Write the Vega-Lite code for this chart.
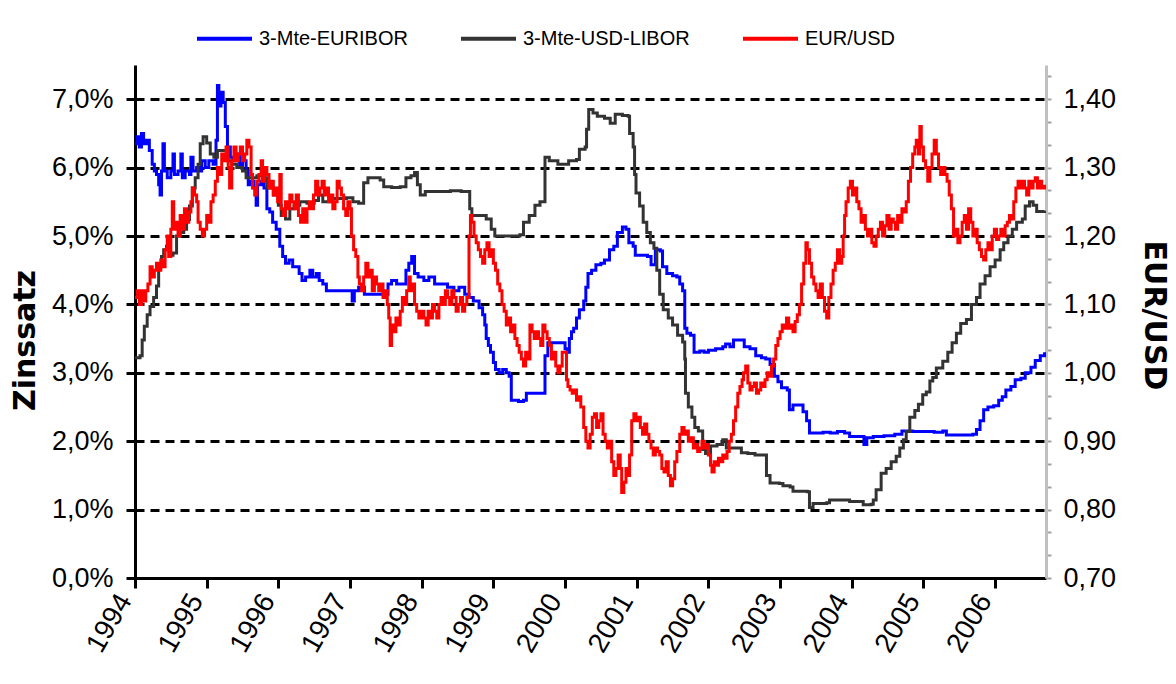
{
  "$schema": "https://vega.github.io/schema/vega-lite/v6.json",
  "width": 911,
  "height": 513,
  "autosize": {"type": "none"},
  "padding": {"left": 135, "top": 65, "right": 130, "bottom": 106},
  "background": "white",
  "config": {"view": {"stroke": null}},
  "datasets": {
    "zins": [
      {"d":1994.00,"s":"3-Mte-EURIBOR","v":6.35},{"d":1994.03,"s":"3-Mte-EURIBOR","v":6.45},{"d":1994.06,"s":"3-Mte-EURIBOR","v":6.3},{"d":1994.09,"s":"3-Mte-EURIBOR","v":6.5},{"d":1994.12,"s":"3-Mte-EURIBOR","v":6.35},{"d":1994.16,"s":"3-Mte-EURIBOR","v":6.4},{"d":1994.20,"s":"3-Mte-EURIBOR","v":6.25},{"d":1994.24,"s":"3-Mte-EURIBOR","v":6.05},{"d":1994.27,"s":"3-Mte-EURIBOR","v":5.95},{"d":1994.30,"s":"3-Mte-EURIBOR","v":5.9},{"d":1994.33,"s":"3-Mte-EURIBOR","v":5.75},{"d":1994.35,"s":"3-Mte-EURIBOR","v":5.6},{"d":1994.37,"s":"3-Mte-EURIBOR","v":5.95},{"d":1994.39,"s":"3-Mte-EURIBOR","v":6.35},{"d":1994.41,"s":"3-Mte-EURIBOR","v":5.95},{"d":1994.45,"s":"3-Mte-EURIBOR","v":5.85},{"d":1994.50,"s":"3-Mte-EURIBOR","v":5.95},{"d":1994.53,"s":"3-Mte-EURIBOR","v":6.2},{"d":1994.55,"s":"3-Mte-EURIBOR","v":5.9},{"d":1994.60,"s":"3-Mte-EURIBOR","v":5.95},{"d":1994.64,"s":"3-Mte-EURIBOR","v":6.2},{"d":1994.66,"s":"3-Mte-EURIBOR","v":5.85},{"d":1994.70,"s":"3-Mte-EURIBOR","v":5.95},{"d":1994.76,"s":"3-Mte-EURIBOR","v":5.9},{"d":1994.78,"s":"3-Mte-EURIBOR","v":6.15},{"d":1994.81,"s":"3-Mte-EURIBOR","v":5.95},{"d":1994.86,"s":"3-Mte-EURIBOR","v":6.0},{"d":1994.90,"s":"3-Mte-EURIBOR","v":5.95},{"d":1994.93,"s":"3-Mte-EURIBOR","v":6.1},{"d":1994.98,"s":"3-Mte-EURIBOR","v":6.0},{"d":1995.03,"s":"3-Mte-EURIBOR","v":6.1},{"d":1995.09,"s":"3-Mte-EURIBOR","v":6.05},{"d":1995.13,"s":"3-Mte-EURIBOR","v":6.4},{"d":1995.15,"s":"3-Mte-EURIBOR","v":7.2},{"d":1995.17,"s":"3-Mte-EURIBOR","v":6.9},{"d":1995.20,"s":"3-Mte-EURIBOR","v":7.1},{"d":1995.23,"s":"3-Mte-EURIBOR","v":6.95},{"d":1995.26,"s":"3-Mte-EURIBOR","v":6.6},{"d":1995.29,"s":"3-Mte-EURIBOR","v":6.3},{"d":1995.33,"s":"3-Mte-EURIBOR","v":6.15},{"d":1995.37,"s":"3-Mte-EURIBOR","v":6.1},{"d":1995.42,"s":"3-Mte-EURIBOR","v":6.2},{"d":1995.46,"s":"3-Mte-EURIBOR","v":6.0},{"d":1995.50,"s":"3-Mte-EURIBOR","v":6.1},{"d":1995.55,"s":"3-Mte-EURIBOR","v":5.95},{"d":1995.58,"s":"3-Mte-EURIBOR","v":5.75},{"d":1995.62,"s":"3-Mte-EURIBOR","v":5.8},{"d":1995.66,"s":"3-Mte-EURIBOR","v":5.7},{"d":1995.69,"s":"3-Mte-EURIBOR","v":5.45},{"d":1995.71,"s":"3-Mte-EURIBOR","v":5.75},{"d":1995.76,"s":"3-Mte-EURIBOR","v":5.8},{"d":1995.80,"s":"3-Mte-EURIBOR","v":5.7},{"d":1995.84,"s":"3-Mte-EURIBOR","v":5.4},{"d":1995.88,"s":"3-Mte-EURIBOR","v":5.35},{"d":1995.92,"s":"3-Mte-EURIBOR","v":5.2},{"d":1995.97,"s":"3-Mte-EURIBOR","v":5.1},{"d":1996.02,"s":"3-Mte-EURIBOR","v":4.85},{"d":1996.06,"s":"3-Mte-EURIBOR","v":4.7},{"d":1996.10,"s":"3-Mte-EURIBOR","v":4.6},{"d":1996.15,"s":"3-Mte-EURIBOR","v":4.65},{"d":1996.20,"s":"3-Mte-EURIBOR","v":4.55},{"d":1996.25,"s":"3-Mte-EURIBOR","v":4.55},{"d":1996.29,"s":"3-Mte-EURIBOR","v":4.45},{"d":1996.33,"s":"3-Mte-EURIBOR","v":4.35},{"d":1996.38,"s":"3-Mte-EURIBOR","v":4.4},{"d":1996.44,"s":"3-Mte-EURIBOR","v":4.5},{"d":1996.48,"s":"3-Mte-EURIBOR","v":4.4},{"d":1996.53,"s":"3-Mte-EURIBOR","v":4.45},{"d":1996.57,"s":"3-Mte-EURIBOR","v":4.35},{"d":1996.62,"s":"3-Mte-EURIBOR","v":4.3},{"d":1996.67,"s":"3-Mte-EURIBOR","v":4.2},{"d":1996.75,"s":"3-Mte-EURIBOR","v":4.2},{"d":1996.85,"s":"3-Mte-EURIBOR","v":4.2},{"d":1996.95,"s":"3-Mte-EURIBOR","v":4.2},{"d":1997.03,"s":"3-Mte-EURIBOR","v":4.05},{"d":1997.06,"s":"3-Mte-EURIBOR","v":4.2},{"d":1997.12,"s":"3-Mte-EURIBOR","v":4.25},{"d":1997.20,"s":"3-Mte-EURIBOR","v":4.15},{"d":1997.30,"s":"3-Mte-EURIBOR","v":4.15},{"d":1997.40,"s":"3-Mte-EURIBOR","v":4.15},{"d":1997.50,"s":"3-Mte-EURIBOR","v":4.15},{"d":1997.53,"s":"3-Mte-EURIBOR","v":4.3},{"d":1997.58,"s":"3-Mte-EURIBOR","v":4.35},{"d":1997.65,"s":"3-Mte-EURIBOR","v":4.3},{"d":1997.72,"s":"3-Mte-EURIBOR","v":4.3},{"d":1997.78,"s":"3-Mte-EURIBOR","v":4.5},{"d":1997.82,"s":"3-Mte-EURIBOR","v":4.6},{"d":1997.86,"s":"3-Mte-EURIBOR","v":4.7},{"d":1997.90,"s":"3-Mte-EURIBOR","v":4.45},{"d":1997.95,"s":"3-Mte-EURIBOR","v":4.4},{"d":1998.03,"s":"3-Mte-EURIBOR","v":4.35},{"d":1998.10,"s":"3-Mte-EURIBOR","v":4.4},{"d":1998.18,"s":"3-Mte-EURIBOR","v":4.3},{"d":1998.28,"s":"3-Mte-EURIBOR","v":4.3},{"d":1998.36,"s":"3-Mte-EURIBOR","v":4.25},{"d":1998.45,"s":"3-Mte-EURIBOR","v":4.2},{"d":1998.52,"s":"3-Mte-EURIBOR","v":4.25},{"d":1998.60,"s":"3-Mte-EURIBOR","v":4.15},{"d":1998.66,"s":"3-Mte-EURIBOR","v":4.1},{"d":1998.72,"s":"3-Mte-EURIBOR","v":4.05},{"d":1998.80,"s":"3-Mte-EURIBOR","v":3.95},{"d":1998.85,"s":"3-Mte-EURIBOR","v":3.85},{"d":1998.88,"s":"3-Mte-EURIBOR","v":3.7},{"d":1998.90,"s":"3-Mte-EURIBOR","v":3.5},{"d":1998.93,"s":"3-Mte-EURIBOR","v":3.4},{"d":1998.96,"s":"3-Mte-EURIBOR","v":3.3},{"d":1999.00,"s":"3-Mte-EURIBOR","v":3.15},{"d":1999.03,"s":"3-Mte-EURIBOR","v":3.05},{"d":1999.08,"s":"3-Mte-EURIBOR","v":3.0},{"d":1999.13,"s":"3-Mte-EURIBOR","v":3.05},{"d":1999.18,"s":"3-Mte-EURIBOR","v":3.0},{"d":1999.22,"s":"3-Mte-EURIBOR","v":2.95},{"d":1999.25,"s":"3-Mte-EURIBOR","v":2.6},{"d":1999.35,"s":"3-Mte-EURIBOR","v":2.58},{"d":1999.42,"s":"3-Mte-EURIBOR","v":2.6},{"d":1999.46,"s":"3-Mte-EURIBOR","v":2.7},{"d":1999.55,"s":"3-Mte-EURIBOR","v":2.7},{"d":1999.65,"s":"3-Mte-EURIBOR","v":2.7},{"d":1999.72,"s":"3-Mte-EURIBOR","v":3.25},{"d":1999.76,"s":"3-Mte-EURIBOR","v":3.44},{"d":1999.85,"s":"3-Mte-EURIBOR","v":3.44},{"d":1999.95,"s":"3-Mte-EURIBOR","v":3.44},{"d":2000.00,"s":"3-Mte-EURIBOR","v":3.35},{"d":2000.03,"s":"3-Mte-EURIBOR","v":3.3},{"d":2000.06,"s":"3-Mte-EURIBOR","v":3.5},{"d":2000.09,"s":"3-Mte-EURIBOR","v":3.6},{"d":2000.12,"s":"3-Mte-EURIBOR","v":3.65},{"d":2000.16,"s":"3-Mte-EURIBOR","v":3.8},{"d":2000.20,"s":"3-Mte-EURIBOR","v":3.92},{"d":2000.26,"s":"3-Mte-EURIBOR","v":4.05},{"d":2000.29,"s":"3-Mte-EURIBOR","v":4.25},{"d":2000.32,"s":"3-Mte-EURIBOR","v":4.45},{"d":2000.37,"s":"3-Mte-EURIBOR","v":4.5},{"d":2000.43,"s":"3-Mte-EURIBOR","v":4.58},{"d":2000.50,"s":"3-Mte-EURIBOR","v":4.6},{"d":2000.55,"s":"3-Mte-EURIBOR","v":4.65},{"d":2000.62,"s":"3-Mte-EURIBOR","v":4.8},{"d":2000.68,"s":"3-Mte-EURIBOR","v":4.85},{"d":2000.73,"s":"3-Mte-EURIBOR","v":5.05},{"d":2000.80,"s":"3-Mte-EURIBOR","v":5.13},{"d":2000.85,"s":"3-Mte-EURIBOR","v":5.1},{"d":2000.89,"s":"3-Mte-EURIBOR","v":4.9},{"d":2000.95,"s":"3-Mte-EURIBOR","v":4.85},{"d":2000.98,"s":"3-Mte-EURIBOR","v":4.72},{"d":2001.08,"s":"3-Mte-EURIBOR","v":4.72},{"d":2001.15,"s":"3-Mte-EURIBOR","v":4.7},{"d":2001.20,"s":"3-Mte-EURIBOR","v":4.58},{"d":2001.26,"s":"3-Mte-EURIBOR","v":4.8},{"d":2001.33,"s":"3-Mte-EURIBOR","v":4.78},{"d":2001.36,"s":"3-Mte-EURIBOR","v":4.55},{"d":2001.42,"s":"3-Mte-EURIBOR","v":4.45},{"d":2001.50,"s":"3-Mte-EURIBOR","v":4.42},{"d":2001.56,"s":"3-Mte-EURIBOR","v":4.4},{"d":2001.60,"s":"3-Mte-EURIBOR","v":4.3},{"d":2001.64,"s":"3-Mte-EURIBOR","v":4.2},{"d":2001.67,"s":"3-Mte-EURIBOR","v":3.65},{"d":2001.70,"s":"3-Mte-EURIBOR","v":3.58},{"d":2001.75,"s":"3-Mte-EURIBOR","v":3.55},{"d":2001.80,"s":"3-Mte-EURIBOR","v":3.3},{"d":2001.88,"s":"3-Mte-EURIBOR","v":3.32},{"d":2001.94,"s":"3-Mte-EURIBOR","v":3.3},{"d":2002.00,"s":"3-Mte-EURIBOR","v":3.33},{"d":2002.10,"s":"3-Mte-EURIBOR","v":3.35},{"d":2002.20,"s":"3-Mte-EURIBOR","v":3.38},{"d":2002.24,"s":"3-Mte-EURIBOR","v":3.42},{"d":2002.30,"s":"3-Mte-EURIBOR","v":3.38},{"d":2002.35,"s":"3-Mte-EURIBOR","v":3.48},{"d":2002.45,"s":"3-Mte-EURIBOR","v":3.48},{"d":2002.50,"s":"3-Mte-EURIBOR","v":3.38},{"d":2002.58,"s":"3-Mte-EURIBOR","v":3.35},{"d":2002.66,"s":"3-Mte-EURIBOR","v":3.25},{"d":2002.74,"s":"3-Mte-EURIBOR","v":3.22},{"d":2002.80,"s":"3-Mte-EURIBOR","v":3.2},{"d":2002.86,"s":"3-Mte-EURIBOR","v":3.12},{"d":2002.92,"s":"3-Mte-EURIBOR","v":2.95},{"d":2002.97,"s":"3-Mte-EURIBOR","v":2.87},{"d":2003.02,"s":"3-Mte-EURIBOR","v":2.78},{"d":2003.10,"s":"3-Mte-EURIBOR","v":2.75},{"d":2003.13,"s":"3-Mte-EURIBOR","v":2.46},{"d":2003.18,"s":"3-Mte-EURIBOR","v":2.53},{"d":2003.27,"s":"3-Mte-EURIBOR","v":2.53},{"d":2003.32,"s":"3-Mte-EURIBOR","v":2.43},{"d":2003.37,"s":"3-Mte-EURIBOR","v":2.3},{"d":2003.41,"s":"3-Mte-EURIBOR","v":2.12},{"d":2003.50,"s":"3-Mte-EURIBOR","v":2.12},{"d":2003.60,"s":"3-Mte-EURIBOR","v":2.13},{"d":2003.70,"s":"3-Mte-EURIBOR","v":2.12},{"d":2003.80,"s":"3-Mte-EURIBOR","v":2.14},{"d":2003.90,"s":"3-Mte-EURIBOR","v":2.12},{"d":2003.97,"s":"3-Mte-EURIBOR","v":2.07},{"d":2004.10,"s":"3-Mte-EURIBOR","v":2.07},{"d":2004.17,"s":"3-Mte-EURIBOR","v":1.95},{"d":2004.21,"s":"3-Mte-EURIBOR","v":2.05},{"d":2004.30,"s":"3-Mte-EURIBOR","v":2.07},{"d":2004.45,"s":"3-Mte-EURIBOR","v":2.08},{"d":2004.60,"s":"3-Mte-EURIBOR","v":2.1},{"d":2004.70,"s":"3-Mte-EURIBOR","v":2.15},{"d":2004.85,"s":"3-Mte-EURIBOR","v":2.14},{"d":2005.00,"s":"3-Mte-EURIBOR","v":2.14},{"d":2005.15,"s":"3-Mte-EURIBOR","v":2.13},{"d":2005.27,"s":"3-Mte-EURIBOR","v":2.15},{"d":2005.32,"s":"3-Mte-EURIBOR","v":2.09},{"d":2005.50,"s":"3-Mte-EURIBOR","v":2.09},{"d":2005.69,"s":"3-Mte-EURIBOR","v":2.1},{"d":2005.74,"s":"3-Mte-EURIBOR","v":2.17},{"d":2005.79,"s":"3-Mte-EURIBOR","v":2.3},{"d":2005.84,"s":"3-Mte-EURIBOR","v":2.46},{"d":2005.90,"s":"3-Mte-EURIBOR","v":2.5},{"d":2005.98,"s":"3-Mte-EURIBOR","v":2.52},{"d":2006.05,"s":"3-Mte-EURIBOR","v":2.6},{"d":2006.10,"s":"3-Mte-EURIBOR","v":2.65},{"d":2006.15,"s":"3-Mte-EURIBOR","v":2.75},{"d":2006.22,"s":"3-Mte-EURIBOR","v":2.8},{"d":2006.28,"s":"3-Mte-EURIBOR","v":2.9},{"d":2006.36,"s":"3-Mte-EURIBOR","v":2.92},{"d":2006.42,"s":"3-Mte-EURIBOR","v":3.0},{"d":2006.50,"s":"3-Mte-EURIBOR","v":3.08},{"d":2006.56,"s":"3-Mte-EURIBOR","v":3.18},{"d":2006.63,"s":"3-Mte-EURIBOR","v":3.25},{"d":2006.69,"s":"3-Mte-EURIBOR","v":3.3},
      {"d":1994.00,"s":"3-Mte-USD-LIBOR","v":3.22},{"d":1994.07,"s":"3-Mte-USD-LIBOR","v":3.25},{"d":1994.10,"s":"3-Mte-USD-LIBOR","v":3.48},{"d":1994.13,"s":"3-Mte-USD-LIBOR","v":3.68},{"d":1994.17,"s":"3-Mte-USD-LIBOR","v":3.85},{"d":1994.21,"s":"3-Mte-USD-LIBOR","v":3.97},{"d":1994.26,"s":"3-Mte-USD-LIBOR","v":4.1},{"d":1994.30,"s":"3-Mte-USD-LIBOR","v":4.27},{"d":1994.33,"s":"3-Mte-USD-LIBOR","v":4.55},{"d":1994.37,"s":"3-Mte-USD-LIBOR","v":4.7},{"d":1994.40,"s":"3-Mte-USD-LIBOR","v":4.8},{"d":1994.44,"s":"3-Mte-USD-LIBOR","v":4.85},{"d":1994.48,"s":"3-Mte-USD-LIBOR","v":4.72},{"d":1994.53,"s":"3-Mte-USD-LIBOR","v":4.75},{"d":1994.58,"s":"3-Mte-USD-LIBOR","v":5.0},{"d":1994.63,"s":"3-Mte-USD-LIBOR","v":5.05},{"d":1994.68,"s":"3-Mte-USD-LIBOR","v":5.1},{"d":1994.72,"s":"3-Mte-USD-LIBOR","v":5.24},{"d":1994.76,"s":"3-Mte-USD-LIBOR","v":5.44},{"d":1994.80,"s":"3-Mte-USD-LIBOR","v":5.7},{"d":1994.84,"s":"3-Mte-USD-LIBOR","v":5.85},{"d":1994.88,"s":"3-Mte-USD-LIBOR","v":6.05},{"d":1994.91,"s":"3-Mte-USD-LIBOR","v":6.35},{"d":1994.95,"s":"3-Mte-USD-LIBOR","v":6.45},{"d":1995.00,"s":"3-Mte-USD-LIBOR","v":6.36},{"d":1995.05,"s":"3-Mte-USD-LIBOR","v":6.2},{"d":1995.10,"s":"3-Mte-USD-LIBOR","v":6.15},{"d":1995.15,"s":"3-Mte-USD-LIBOR","v":6.25},{"d":1995.23,"s":"3-Mte-USD-LIBOR","v":6.25},{"d":1995.28,"s":"3-Mte-USD-LIBOR","v":6.1},{"d":1995.35,"s":"3-Mte-USD-LIBOR","v":6.05},{"d":1995.42,"s":"3-Mte-USD-LIBOR","v":6.0},{"d":1995.50,"s":"3-Mte-USD-LIBOR","v":5.95},{"d":1995.55,"s":"3-Mte-USD-LIBOR","v":5.85},{"d":1995.62,"s":"3-Mte-USD-LIBOR","v":5.85},{"d":1995.70,"s":"3-Mte-USD-LIBOR","v":5.88},{"d":1995.78,"s":"3-Mte-USD-LIBOR","v":5.85},{"d":1995.84,"s":"3-Mte-USD-LIBOR","v":5.7},{"d":1995.93,"s":"3-Mte-USD-LIBOR","v":5.6},{"d":1996.00,"s":"3-Mte-USD-LIBOR","v":5.45},{"d":1996.04,"s":"3-Mte-USD-LIBOR","v":5.3},{"d":1996.10,"s":"3-Mte-USD-LIBOR","v":5.25},{"d":1996.16,"s":"3-Mte-USD-LIBOR","v":5.4},{"d":1996.22,"s":"3-Mte-USD-LIBOR","v":5.45},{"d":1996.30,"s":"3-Mte-USD-LIBOR","v":5.5},{"d":1996.40,"s":"3-Mte-USD-LIBOR","v":5.48},{"d":1996.50,"s":"3-Mte-USD-LIBOR","v":5.52},{"d":1996.56,"s":"3-Mte-USD-LIBOR","v":5.6},{"d":1996.62,"s":"3-Mte-USD-LIBOR","v":5.5},{"d":1996.72,"s":"3-Mte-USD-LIBOR","v":5.55},{"d":1996.85,"s":"3-Mte-USD-LIBOR","v":5.55},{"d":1996.95,"s":"3-Mte-USD-LIBOR","v":5.56},{"d":1997.04,"s":"3-Mte-USD-LIBOR","v":5.5},{"d":1997.12,"s":"3-Mte-USD-LIBOR","v":5.48},{"d":1997.19,"s":"3-Mte-USD-LIBOR","v":5.78},{"d":1997.25,"s":"3-Mte-USD-LIBOR","v":5.85},{"d":1997.35,"s":"3-Mte-USD-LIBOR","v":5.85},{"d":1997.42,"s":"3-Mte-USD-LIBOR","v":5.82},{"d":1997.47,"s":"3-Mte-USD-LIBOR","v":5.72},{"d":1997.58,"s":"3-Mte-USD-LIBOR","v":5.71},{"d":1997.70,"s":"3-Mte-USD-LIBOR","v":5.72},{"d":1997.78,"s":"3-Mte-USD-LIBOR","v":5.85},{"d":1997.85,"s":"3-Mte-USD-LIBOR","v":5.88},{"d":1997.90,"s":"3-Mte-USD-LIBOR","v":5.93},{"d":1997.94,"s":"3-Mte-USD-LIBOR","v":5.75},{"d":1997.98,"s":"3-Mte-USD-LIBOR","v":5.6},{"d":1998.05,"s":"3-Mte-USD-LIBOR","v":5.65},{"d":1998.20,"s":"3-Mte-USD-LIBOR","v":5.65},{"d":1998.40,"s":"3-Mte-USD-LIBOR","v":5.66},{"d":1998.55,"s":"3-Mte-USD-LIBOR","v":5.65},{"d":1998.65,"s":"3-Mte-USD-LIBOR","v":5.65},{"d":1998.67,"s":"3-Mte-USD-LIBOR","v":5.4},{"d":1998.70,"s":"3-Mte-USD-LIBOR","v":5.3},{"d":1998.80,"s":"3-Mte-USD-LIBOR","v":5.3},{"d":1998.90,"s":"3-Mte-USD-LIBOR","v":5.25},{"d":1998.97,"s":"3-Mte-USD-LIBOR","v":5.1},{"d":1999.02,"s":"3-Mte-USD-LIBOR","v":5.0},{"d":1999.20,"s":"3-Mte-USD-LIBOR","v":5.0},{"d":1999.37,"s":"3-Mte-USD-LIBOR","v":5.02},{"d":1999.42,"s":"3-Mte-USD-LIBOR","v":5.2},{"d":1999.50,"s":"3-Mte-USD-LIBOR","v":5.3},{"d":1999.58,"s":"3-Mte-USD-LIBOR","v":5.45},{"d":1999.65,"s":"3-Mte-USD-LIBOR","v":5.5},{"d":1999.72,"s":"3-Mte-USD-LIBOR","v":6.15},{"d":1999.78,"s":"3-Mte-USD-LIBOR","v":6.1},{"d":1999.90,"s":"3-Mte-USD-LIBOR","v":6.05},{"d":2000.05,"s":"3-Mte-USD-LIBOR","v":6.1},{"d":2000.16,"s":"3-Mte-USD-LIBOR","v":6.12},{"d":2000.20,"s":"3-Mte-USD-LIBOR","v":6.27},{"d":2000.28,"s":"3-Mte-USD-LIBOR","v":6.3},{"d":2000.30,"s":"3-Mte-USD-LIBOR","v":6.56},{"d":2000.33,"s":"3-Mte-USD-LIBOR","v":6.85},{"d":2000.39,"s":"3-Mte-USD-LIBOR","v":6.8},{"d":2000.45,"s":"3-Mte-USD-LIBOR","v":6.75},{"d":2000.55,"s":"3-Mte-USD-LIBOR","v":6.72},{"d":2000.63,"s":"3-Mte-USD-LIBOR","v":6.65},{"d":2000.70,"s":"3-Mte-USD-LIBOR","v":6.78},{"d":2000.80,"s":"3-Mte-USD-LIBOR","v":6.76},{"d":2000.88,"s":"3-Mte-USD-LIBOR","v":6.75},{"d":2000.90,"s":"3-Mte-USD-LIBOR","v":6.5},{"d":2000.95,"s":"3-Mte-USD-LIBOR","v":6.3},{"d":2000.97,"s":"3-Mte-USD-LIBOR","v":5.9},{"d":2000.99,"s":"3-Mte-USD-LIBOR","v":5.63},{"d":2001.04,"s":"3-Mte-USD-LIBOR","v":5.44},{"d":2001.09,"s":"3-Mte-USD-LIBOR","v":5.2},{"d":2001.14,"s":"3-Mte-USD-LIBOR","v":5.05},{"d":2001.19,"s":"3-Mte-USD-LIBOR","v":4.9},{"d":2001.24,"s":"3-Mte-USD-LIBOR","v":4.82},{"d":2001.28,"s":"3-Mte-USD-LIBOR","v":4.5},{"d":2001.32,"s":"3-Mte-USD-LIBOR","v":4.15},{"d":2001.37,"s":"3-Mte-USD-LIBOR","v":3.92},{"d":2001.44,"s":"3-Mte-USD-LIBOR","v":3.8},{"d":2001.50,"s":"3-Mte-USD-LIBOR","v":3.7},{"d":2001.57,"s":"3-Mte-USD-LIBOR","v":3.55},{"d":2001.64,"s":"3-Mte-USD-LIBOR","v":3.45},{"d":2001.67,"s":"3-Mte-USD-LIBOR","v":3.2},{"d":2001.68,"s":"3-Mte-USD-LIBOR","v":2.7},{"d":2001.72,"s":"3-Mte-USD-LIBOR","v":2.5},{"d":2001.77,"s":"3-Mte-USD-LIBOR","v":2.35},{"d":2001.81,"s":"3-Mte-USD-LIBOR","v":2.2},{"d":2001.86,"s":"3-Mte-USD-LIBOR","v":2.15},{"d":2001.92,"s":"3-Mte-USD-LIBOR","v":1.88},{"d":2001.96,"s":"3-Mte-USD-LIBOR","v":1.82},{"d":2002.03,"s":"3-Mte-USD-LIBOR","v":1.93},{"d":2002.12,"s":"3-Mte-USD-LIBOR","v":1.95},{"d":2002.20,"s":"3-Mte-USD-LIBOR","v":2.02},{"d":2002.25,"s":"3-Mte-USD-LIBOR","v":1.9},{"d":2002.38,"s":"3-Mte-USD-LIBOR","v":1.9},{"d":2002.46,"s":"3-Mte-USD-LIBOR","v":1.83},{"d":2002.55,"s":"3-Mte-USD-LIBOR","v":1.82},{"d":2002.65,"s":"3-Mte-USD-LIBOR","v":1.8},{"d":2002.76,"s":"3-Mte-USD-LIBOR","v":1.8},{"d":2002.81,"s":"3-Mte-USD-LIBOR","v":1.5},{"d":2002.86,"s":"3-Mte-USD-LIBOR","v":1.39},{"d":2002.99,"s":"3-Mte-USD-LIBOR","v":1.38},{"d":2003.04,"s":"3-Mte-USD-LIBOR","v":1.35},{"d":2003.14,"s":"3-Mte-USD-LIBOR","v":1.33},{"d":2003.18,"s":"3-Mte-USD-LIBOR","v":1.27},{"d":2003.38,"s":"3-Mte-USD-LIBOR","v":1.26},{"d":2003.41,"s":"3-Mte-USD-LIBOR","v":1.03},{"d":2003.46,"s":"3-Mte-USD-LIBOR","v":1.09},{"d":2003.65,"s":"3-Mte-USD-LIBOR","v":1.1},{"d":2003.69,"s":"3-Mte-USD-LIBOR","v":1.14},{"d":2003.93,"s":"3-Mte-USD-LIBOR","v":1.14},{"d":2003.97,"s":"3-Mte-USD-LIBOR","v":1.12},{"d":2004.11,"s":"3-Mte-USD-LIBOR","v":1.12},{"d":2004.16,"s":"3-Mte-USD-LIBOR","v":1.07},{"d":2004.27,"s":"3-Mte-USD-LIBOR","v":1.08},{"d":2004.30,"s":"3-Mte-USD-LIBOR","v":1.14},{"d":2004.34,"s":"3-Mte-USD-LIBOR","v":1.29},{"d":2004.41,"s":"3-Mte-USD-LIBOR","v":1.53},{"d":2004.48,"s":"3-Mte-USD-LIBOR","v":1.6},{"d":2004.55,"s":"3-Mte-USD-LIBOR","v":1.7},{"d":2004.62,"s":"3-Mte-USD-LIBOR","v":1.78},{"d":2004.67,"s":"3-Mte-USD-LIBOR","v":1.9},{"d":2004.72,"s":"3-Mte-USD-LIBOR","v":2.02},{"d":2004.76,"s":"3-Mte-USD-LIBOR","v":2.14},{"d":2004.81,"s":"3-Mte-USD-LIBOR","v":2.35},{"d":2004.88,"s":"3-Mte-USD-LIBOR","v":2.45},{"d":2004.93,"s":"3-Mte-USD-LIBOR","v":2.54},{"d":2004.99,"s":"3-Mte-USD-LIBOR","v":2.68},{"d":2005.04,"s":"3-Mte-USD-LIBOR","v":2.72},{"d":2005.09,"s":"3-Mte-USD-LIBOR","v":2.88},{"d":2005.13,"s":"3-Mte-USD-LIBOR","v":2.93},{"d":2005.18,"s":"3-Mte-USD-LIBOR","v":3.07},{"d":2005.27,"s":"3-Mte-USD-LIBOR","v":3.17},{"d":2005.34,"s":"3-Mte-USD-LIBOR","v":3.3},{"d":2005.40,"s":"3-Mte-USD-LIBOR","v":3.44},{"d":2005.46,"s":"3-Mte-USD-LIBOR","v":3.58},{"d":2005.52,"s":"3-Mte-USD-LIBOR","v":3.72},{"d":2005.60,"s":"3-Mte-USD-LIBOR","v":3.78},{"d":2005.67,"s":"3-Mte-USD-LIBOR","v":4.0},{"d":2005.74,"s":"3-Mte-USD-LIBOR","v":4.1},{"d":2005.79,"s":"3-Mte-USD-LIBOR","v":4.3},{"d":2005.86,"s":"3-Mte-USD-LIBOR","v":4.42},{"d":2005.93,"s":"3-Mte-USD-LIBOR","v":4.55},{"d":2006.00,"s":"3-Mte-USD-LIBOR","v":4.65},{"d":2006.07,"s":"3-Mte-USD-LIBOR","v":4.8},{"d":2006.12,"s":"3-Mte-USD-LIBOR","v":4.9},{"d":2006.18,"s":"3-Mte-USD-LIBOR","v":5.0},{"d":2006.24,"s":"3-Mte-USD-LIBOR","v":5.1},{"d":2006.30,"s":"3-Mte-USD-LIBOR","v":5.2},{"d":2006.38,"s":"3-Mte-USD-LIBOR","v":5.25},{"d":2006.42,"s":"3-Mte-USD-LIBOR","v":5.44},{"d":2006.48,"s":"3-Mte-USD-LIBOR","v":5.5},{"d":2006.53,"s":"3-Mte-USD-LIBOR","v":5.45},{"d":2006.58,"s":"3-Mte-USD-LIBOR","v":5.36},{"d":2006.69,"s":"3-Mte-USD-LIBOR","v":5.37}
    ],
    "fx": [
      {"d":1994.00,"s":"EUR/USD","v":1.11},{"d":1994.03,"s":"EUR/USD","v":1.12},{"d":1994.06,"s":"EUR/USD","v":1.10},{"d":1994.09,"s":"EUR/USD","v":1.12},{"d":1994.12,"s":"EUR/USD","v":1.105},{"d":1994.15,"s":"EUR/USD","v":1.12},{"d":1994.18,"s":"EUR/USD","v":1.13},{"d":1994.21,"s":"EUR/USD","v":1.155},{"d":1994.24,"s":"EUR/USD","v":1.14},{"d":1994.27,"s":"EUR/USD","v":1.15},{"d":1994.30,"s":"EUR/USD","v":1.16},{"d":1994.33,"s":"EUR/USD","v":1.15},{"d":1994.36,"s":"EUR/USD","v":1.165},{"d":1994.39,"s":"EUR/USD","v":1.155},{"d":1994.42,"s":"EUR/USD","v":1.18},{"d":1994.45,"s":"EUR/USD","v":1.2},{"d":1994.47,"s":"EUR/USD","v":1.17},{"d":1994.50,"s":"EUR/USD","v":1.21},{"d":1994.52,"s":"EUR/USD","v":1.25},{"d":1994.54,"s":"EUR/USD","v":1.21},{"d":1994.57,"s":"EUR/USD","v":1.22},{"d":1994.60,"s":"EUR/USD","v":1.2},{"d":1994.63,"s":"EUR/USD","v":1.23},{"d":1994.66,"s":"EUR/USD","v":1.21},{"d":1994.69,"s":"EUR/USD","v":1.24},{"d":1994.72,"s":"EUR/USD","v":1.22},{"d":1994.75,"s":"EUR/USD","v":1.235},{"d":1994.78,"s":"EUR/USD","v":1.25},{"d":1994.80,"s":"EUR/USD","v":1.27},{"d":1994.83,"s":"EUR/USD","v":1.26},{"d":1994.86,"s":"EUR/USD","v":1.25},{"d":1994.88,"s":"EUR/USD","v":1.22},{"d":1994.91,"s":"EUR/USD","v":1.21},{"d":1994.94,"s":"EUR/USD","v":1.2},{"d":1994.97,"s":"EUR/USD","v":1.21},{"d":1995.00,"s":"EUR/USD","v":1.23},{"d":1995.03,"s":"EUR/USD","v":1.22},{"d":1995.06,"s":"EUR/USD","v":1.25},{"d":1995.09,"s":"EUR/USD","v":1.26},{"d":1995.12,"s":"EUR/USD","v":1.28},{"d":1995.15,"s":"EUR/USD","v":1.3},{"d":1995.18,"s":"EUR/USD","v":1.29},{"d":1995.21,"s":"EUR/USD","v":1.32},{"d":1995.24,"s":"EUR/USD","v":1.31},{"d":1995.27,"s":"EUR/USD","v":1.33},{"d":1995.30,"s":"EUR/USD","v":1.30},{"d":1995.32,"s":"EUR/USD","v":1.27},{"d":1995.35,"s":"EUR/USD","v":1.31},{"d":1995.38,"s":"EUR/USD","v":1.33},{"d":1995.41,"s":"EUR/USD","v":1.31},{"d":1995.44,"s":"EUR/USD","v":1.32},{"d":1995.47,"s":"EUR/USD","v":1.33},{"d":1995.50,"s":"EUR/USD","v":1.31},{"d":1995.53,"s":"EUR/USD","v":1.32},{"d":1995.56,"s":"EUR/USD","v":1.34},{"d":1995.59,"s":"EUR/USD","v":1.33},{"d":1995.62,"s":"EUR/USD","v":1.29},{"d":1995.64,"s":"EUR/USD","v":1.27},{"d":1995.67,"s":"EUR/USD","v":1.26},{"d":1995.70,"s":"EUR/USD","v":1.28},{"d":1995.73,"s":"EUR/USD","v":1.29},{"d":1995.76,"s":"EUR/USD","v":1.31},{"d":1995.78,"s":"EUR/USD","v":1.28},{"d":1995.81,"s":"EUR/USD","v":1.3},{"d":1995.84,"s":"EUR/USD","v":1.29},{"d":1995.87,"s":"EUR/USD","v":1.27},{"d":1995.90,"s":"EUR/USD","v":1.28},{"d":1995.93,"s":"EUR/USD","v":1.26},{"d":1995.96,"s":"EUR/USD","v":1.27},{"d":1995.99,"s":"EUR/USD","v":1.25},{"d":1996.02,"s":"EUR/USD","v":1.29},{"d":1996.04,"s":"EUR/USD","v":1.24},{"d":1996.07,"s":"EUR/USD","v":1.23},{"d":1996.10,"s":"EUR/USD","v":1.25},{"d":1996.13,"s":"EUR/USD","v":1.24},{"d":1996.16,"s":"EUR/USD","v":1.26},{"d":1996.19,"s":"EUR/USD","v":1.25},{"d":1996.22,"s":"EUR/USD","v":1.24},{"d":1996.25,"s":"EUR/USD","v":1.26},{"d":1996.28,"s":"EUR/USD","v":1.23},{"d":1996.31,"s":"EUR/USD","v":1.22},{"d":1996.34,"s":"EUR/USD","v":1.24},{"d":1996.37,"s":"EUR/USD","v":1.22},{"d":1996.40,"s":"EUR/USD","v":1.24},{"d":1996.43,"s":"EUR/USD","v":1.25},{"d":1996.46,"s":"EUR/USD","v":1.24},{"d":1996.49,"s":"EUR/USD","v":1.26},{"d":1996.52,"s":"EUR/USD","v":1.28},{"d":1996.55,"s":"EUR/USD","v":1.26},{"d":1996.58,"s":"EUR/USD","v":1.27},{"d":1996.61,"s":"EUR/USD","v":1.28},{"d":1996.64,"s":"EUR/USD","v":1.26},{"d":1996.67,"s":"EUR/USD","v":1.27},{"d":1996.70,"s":"EUR/USD","v":1.25},{"d":1996.73,"s":"EUR/USD","v":1.26},{"d":1996.76,"s":"EUR/USD","v":1.24},{"d":1996.79,"s":"EUR/USD","v":1.25},{"d":1996.82,"s":"EUR/USD","v":1.28},{"d":1996.85,"s":"EUR/USD","v":1.27},{"d":1996.88,"s":"EUR/USD","v":1.26},{"d":1996.91,"s":"EUR/USD","v":1.24},{"d":1996.94,"s":"EUR/USD","v":1.23},{"d":1996.97,"s":"EUR/USD","v":1.25},{"d":1997.00,"s":"EUR/USD","v":1.24},{"d":1997.02,"s":"EUR/USD","v":1.2},{"d":1997.05,"s":"EUR/USD","v":1.18},{"d":1997.08,"s":"EUR/USD","v":1.17},{"d":1997.11,"s":"EUR/USD","v":1.14},{"d":1997.13,"s":"EUR/USD","v":1.13},{"d":1997.16,"s":"EUR/USD","v":1.12},{"d":1997.19,"s":"EUR/USD","v":1.14},{"d":1997.22,"s":"EUR/USD","v":1.16},{"d":1997.25,"s":"EUR/USD","v":1.14},{"d":1997.28,"s":"EUR/USD","v":1.15},{"d":1997.31,"s":"EUR/USD","v":1.12},{"d":1997.34,"s":"EUR/USD","v":1.14},{"d":1997.37,"s":"EUR/USD","v":1.13},{"d":1997.40,"s":"EUR/USD","v":1.12},{"d":1997.43,"s":"EUR/USD","v":1.13},{"d":1997.46,"s":"EUR/USD","v":1.11},{"d":1997.49,"s":"EUR/USD","v":1.12},{"d":1997.52,"s":"EUR/USD","v":1.10},{"d":1997.54,"s":"EUR/USD","v":1.08},{"d":1997.56,"s":"EUR/USD","v":1.04},{"d":1997.58,"s":"EUR/USD","v":1.07},{"d":1997.61,"s":"EUR/USD","v":1.06},{"d":1997.64,"s":"EUR/USD","v":1.08},{"d":1997.67,"s":"EUR/USD","v":1.07},{"d":1997.70,"s":"EUR/USD","v":1.09},{"d":1997.73,"s":"EUR/USD","v":1.11},{"d":1997.76,"s":"EUR/USD","v":1.10},{"d":1997.79,"s":"EUR/USD","v":1.12},{"d":1997.82,"s":"EUR/USD","v":1.14},{"d":1997.84,"s":"EUR/USD","v":1.12},{"d":1997.87,"s":"EUR/USD","v":1.13},{"d":1997.90,"s":"EUR/USD","v":1.10},{"d":1997.93,"s":"EUR/USD","v":1.09},{"d":1997.96,"s":"EUR/USD","v":1.08},{"d":1998.00,"s":"EUR/USD","v":1.09},{"d":1998.03,"s":"EUR/USD","v":1.08},{"d":1998.06,"s":"EUR/USD","v":1.07},{"d":1998.09,"s":"EUR/USD","v":1.09},{"d":1998.12,"s":"EUR/USD","v":1.08},{"d":1998.15,"s":"EUR/USD","v":1.10},{"d":1998.18,"s":"EUR/USD","v":1.09},{"d":1998.21,"s":"EUR/USD","v":1.08},{"d":1998.24,"s":"EUR/USD","v":1.10},{"d":1998.27,"s":"EUR/USD","v":1.11},{"d":1998.30,"s":"EUR/USD","v":1.10},{"d":1998.33,"s":"EUR/USD","v":1.12},{"d":1998.36,"s":"EUR/USD","v":1.11},{"d":1998.39,"s":"EUR/USD","v":1.10},{"d":1998.42,"s":"EUR/USD","v":1.12},{"d":1998.45,"s":"EUR/USD","v":1.11},{"d":1998.48,"s":"EUR/USD","v":1.09},{"d":1998.51,"s":"EUR/USD","v":1.10},{"d":1998.54,"s":"EUR/USD","v":1.11},{"d":1998.57,"s":"EUR/USD","v":1.09},{"d":1998.60,"s":"EUR/USD","v":1.10},{"d":1998.63,"s":"EUR/USD","v":1.11},{"d":1998.66,"s":"EUR/USD","v":1.20},{"d":1998.68,"s":"EUR/USD","v":1.23},{"d":1998.70,"s":"EUR/USD","v":1.22},{"d":1998.73,"s":"EUR/USD","v":1.20},{"d":1998.76,"s":"EUR/USD","v":1.19},{"d":1998.79,"s":"EUR/USD","v":1.18},{"d":1998.82,"s":"EUR/USD","v":1.17},{"d":1998.85,"s":"EUR/USD","v":1.16},{"d":1998.88,"s":"EUR/USD","v":1.18},{"d":1998.91,"s":"EUR/USD","v":1.19},{"d":1998.94,"s":"EUR/USD","v":1.17},{"d":1998.97,"s":"EUR/USD","v":1.18},{"d":1999.00,"s":"EUR/USD","v":1.16},{"d":1999.03,"s":"EUR/USD","v":1.15},{"d":1999.06,"s":"EUR/USD","v":1.13},{"d":1999.09,"s":"EUR/USD","v":1.12},{"d":1999.12,"s":"EUR/USD","v":1.10},{"d":1999.15,"s":"EUR/USD","v":1.09},{"d":1999.18,"s":"EUR/USD","v":1.07},{"d":1999.21,"s":"EUR/USD","v":1.08},{"d":1999.24,"s":"EUR/USD","v":1.06},{"d":1999.27,"s":"EUR/USD","v":1.07},{"d":1999.30,"s":"EUR/USD","v":1.05},{"d":1999.33,"s":"EUR/USD","v":1.04},{"d":1999.36,"s":"EUR/USD","v":1.03},{"d":1999.39,"s":"EUR/USD","v":1.02},{"d":1999.42,"s":"EUR/USD","v":1.01},{"d":1999.45,"s":"EUR/USD","v":1.03},{"d":1999.48,"s":"EUR/USD","v":1.02},{"d":1999.51,"s":"EUR/USD","v":1.07},{"d":1999.54,"s":"EUR/USD","v":1.06},{"d":1999.57,"s":"EUR/USD","v":1.05},{"d":1999.60,"s":"EUR/USD","v":1.06},{"d":1999.63,"s":"EUR/USD","v":1.05},{"d":1999.66,"s":"EUR/USD","v":1.04},{"d":1999.69,"s":"EUR/USD","v":1.07},{"d":1999.72,"s":"EUR/USD","v":1.06},{"d":1999.75,"s":"EUR/USD","v":1.05},{"d":1999.78,"s":"EUR/USD","v":1.04},{"d":1999.81,"s":"EUR/USD","v":1.02},{"d":1999.84,"s":"EUR/USD","v":1.03},{"d":1999.87,"s":"EUR/USD","v":1.01},{"d":1999.90,"s":"EUR/USD","v":1.0},{"d":1999.93,"s":"EUR/USD","v":1.01},{"d":1999.96,"s":"EUR/USD","v":1.03},{"d":2000.00,"s":"EUR/USD","v":1.03},{"d":2000.02,"s":"EUR/USD","v":0.99},{"d":2000.04,"s":"EUR/USD","v":0.98},{"d":2000.07,"s":"EUR/USD","v":0.975},{"d":2000.10,"s":"EUR/USD","v":0.97},{"d":2000.13,"s":"EUR/USD","v":0.975},{"d":2000.16,"s":"EUR/USD","v":0.96},{"d":2000.19,"s":"EUR/USD","v":0.965},{"d":2000.22,"s":"EUR/USD","v":0.95},{"d":2000.26,"s":"EUR/USD","v":0.92},{"d":2000.29,"s":"EUR/USD","v":0.90},{"d":2000.32,"s":"EUR/USD","v":0.89},{"d":2000.35,"s":"EUR/USD","v":0.91},{"d":2000.38,"s":"EUR/USD","v":0.935},{"d":2000.41,"s":"EUR/USD","v":0.94},{"d":2000.44,"s":"EUR/USD","v":0.92},{"d":2000.47,"s":"EUR/USD","v":0.93},{"d":2000.50,"s":"EUR/USD","v":0.94},{"d":2000.53,"s":"EUR/USD","v":0.91},{"d":2000.56,"s":"EUR/USD","v":0.90},{"d":2000.59,"s":"EUR/USD","v":0.89},{"d":2000.62,"s":"EUR/USD","v":0.90},{"d":2000.65,"s":"EUR/USD","v":0.87},{"d":2000.68,"s":"EUR/USD","v":0.85},{"d":2000.71,"s":"EUR/USD","v":0.86},{"d":2000.74,"s":"EUR/USD","v":0.88},{"d":2000.77,"s":"EUR/USD","v":0.86},{"d":2000.79,"s":"EUR/USD","v":0.825},{"d":2000.82,"s":"EUR/USD","v":0.84},{"d":2000.85,"s":"EUR/USD","v":0.86},{"d":2000.88,"s":"EUR/USD","v":0.85},{"d":2000.90,"s":"EUR/USD","v":0.88},{"d":2000.93,"s":"EUR/USD","v":0.93},{"d":2000.96,"s":"EUR/USD","v":0.94},{"d":2000.99,"s":"EUR/USD","v":0.93},{"d":2001.02,"s":"EUR/USD","v":0.935},{"d":2001.05,"s":"EUR/USD","v":0.92},{"d":2001.08,"s":"EUR/USD","v":0.91},{"d":2001.11,"s":"EUR/USD","v":0.925},{"d":2001.14,"s":"EUR/USD","v":0.91},{"d":2001.17,"s":"EUR/USD","v":0.90},{"d":2001.20,"s":"EUR/USD","v":0.89},{"d":2001.23,"s":"EUR/USD","v":0.88},{"d":2001.26,"s":"EUR/USD","v":0.89},{"d":2001.29,"s":"EUR/USD","v":0.885},{"d":2001.32,"s":"EUR/USD","v":0.88},{"d":2001.35,"s":"EUR/USD","v":0.86},{"d":2001.38,"s":"EUR/USD","v":0.855},{"d":2001.41,"s":"EUR/USD","v":0.87},{"d":2001.44,"s":"EUR/USD","v":0.85},{"d":2001.47,"s":"EUR/USD","v":0.835},{"d":2001.50,"s":"EUR/USD","v":0.845},{"d":2001.53,"s":"EUR/USD","v":0.87},{"d":2001.56,"s":"EUR/USD","v":0.885},{"d":2001.60,"s":"EUR/USD","v":0.91},{"d":2001.63,"s":"EUR/USD","v":0.92},{"d":2001.66,"s":"EUR/USD","v":0.91},{"d":2001.69,"s":"EUR/USD","v":0.915},{"d":2001.72,"s":"EUR/USD","v":0.90},{"d":2001.76,"s":"EUR/USD","v":0.905},{"d":2001.79,"s":"EUR/USD","v":0.89},{"d":2001.82,"s":"EUR/USD","v":0.895},{"d":2001.85,"s":"EUR/USD","v":0.885},{"d":2001.88,"s":"EUR/USD","v":0.89},{"d":2001.91,"s":"EUR/USD","v":0.90},{"d":2001.94,"s":"EUR/USD","v":0.89},{"d":2001.97,"s":"EUR/USD","v":0.895},{"d":2002.00,"s":"EUR/USD","v":0.88},{"d":2002.03,"s":"EUR/USD","v":0.865},{"d":2002.05,"s":"EUR/USD","v":0.855},{"d":2002.08,"s":"EUR/USD","v":0.87},{"d":2002.11,"s":"EUR/USD","v":0.865},{"d":2002.14,"s":"EUR/USD","v":0.875},{"d":2002.17,"s":"EUR/USD","v":0.87},{"d":2002.20,"s":"EUR/USD","v":0.88},{"d":2002.23,"s":"EUR/USD","v":0.875},{"d":2002.26,"s":"EUR/USD","v":0.885},{"d":2002.29,"s":"EUR/USD","v":0.90},{"d":2002.32,"s":"EUR/USD","v":0.91},{"d":2002.35,"s":"EUR/USD","v":0.93},{"d":2002.38,"s":"EUR/USD","v":0.95},{"d":2002.41,"s":"EUR/USD","v":0.97},{"d":2002.44,"s":"EUR/USD","v":0.98},{"d":2002.47,"s":"EUR/USD","v":0.99},{"d":2002.49,"s":"EUR/USD","v":1.0},{"d":2002.52,"s":"EUR/USD","v":1.01},{"d":2002.55,"s":"EUR/USD","v":0.985},{"d":2002.58,"s":"EUR/USD","v":0.975},{"d":2002.61,"s":"EUR/USD","v":0.98},{"d":2002.64,"s":"EUR/USD","v":0.985},{"d":2002.67,"s":"EUR/USD","v":0.97},{"d":2002.70,"s":"EUR/USD","v":0.975},{"d":2002.73,"s":"EUR/USD","v":0.985},{"d":2002.76,"s":"EUR/USD","v":0.98},{"d":2002.79,"s":"EUR/USD","v":0.99},{"d":2002.82,"s":"EUR/USD","v":1.0},{"d":2002.85,"s":"EUR/USD","v":0.995},{"d":2002.88,"s":"EUR/USD","v":1.01},{"d":2002.91,"s":"EUR/USD","v":1.02},{"d":2002.94,"s":"EUR/USD","v":1.04},{"d":2002.97,"s":"EUR/USD","v":1.05},{"d":2003.00,"s":"EUR/USD","v":1.06},{"d":2003.03,"s":"EUR/USD","v":1.07},{"d":2003.06,"s":"EUR/USD","v":1.065},{"d":2003.09,"s":"EUR/USD","v":1.08},{"d":2003.12,"s":"EUR/USD","v":1.065},{"d":2003.15,"s":"EUR/USD","v":1.07},{"d":2003.18,"s":"EUR/USD","v":1.06},{"d":2003.21,"s":"EUR/USD","v":1.075},{"d":2003.24,"s":"EUR/USD","v":1.085},{"d":2003.27,"s":"EUR/USD","v":1.10},{"d":2003.30,"s":"EUR/USD","v":1.13},{"d":2003.33,"s":"EUR/USD","v":1.16},{"d":2003.36,"s":"EUR/USD","v":1.19},{"d":2003.38,"s":"EUR/USD","v":1.18},{"d":2003.41,"s":"EUR/USD","v":1.16},{"d":2003.44,"s":"EUR/USD","v":1.14},{"d":2003.47,"s":"EUR/USD","v":1.13},{"d":2003.50,"s":"EUR/USD","v":1.12},{"d":2003.53,"s":"EUR/USD","v":1.11},{"d":2003.56,"s":"EUR/USD","v":1.13},{"d":2003.59,"s":"EUR/USD","v":1.11},{"d":2003.62,"s":"EUR/USD","v":1.09},{"d":2003.65,"s":"EUR/USD","v":1.08},{"d":2003.68,"s":"EUR/USD","v":1.11},{"d":2003.71,"s":"EUR/USD","v":1.13},{"d":2003.74,"s":"EUR/USD","v":1.15},{"d":2003.77,"s":"EUR/USD","v":1.16},{"d":2003.80,"s":"EUR/USD","v":1.18},{"d":2003.83,"s":"EUR/USD","v":1.16},{"d":2003.86,"s":"EUR/USD","v":1.17},{"d":2003.88,"s":"EUR/USD","v":1.20},{"d":2003.90,"s":"EUR/USD","v":1.23},{"d":2003.92,"s":"EUR/USD","v":1.25},{"d":2003.95,"s":"EUR/USD","v":1.27},{"d":2003.98,"s":"EUR/USD","v":1.28},{"d":2004.01,"s":"EUR/USD","v":1.26},{"d":2004.04,"s":"EUR/USD","v":1.27},{"d":2004.07,"s":"EUR/USD","v":1.25},{"d":2004.10,"s":"EUR/USD","v":1.24},{"d":2004.13,"s":"EUR/USD","v":1.22},{"d":2004.16,"s":"EUR/USD","v":1.23},{"d":2004.19,"s":"EUR/USD","v":1.21},{"d":2004.22,"s":"EUR/USD","v":1.20},{"d":2004.25,"s":"EUR/USD","v":1.21},{"d":2004.28,"s":"EUR/USD","v":1.19},{"d":2004.31,"s":"EUR/USD","v":1.185},{"d":2004.34,"s":"EUR/USD","v":1.20},{"d":2004.37,"s":"EUR/USD","v":1.21},{"d":2004.40,"s":"EUR/USD","v":1.22},{"d":2004.43,"s":"EUR/USD","v":1.20},{"d":2004.46,"s":"EUR/USD","v":1.215},{"d":2004.49,"s":"EUR/USD","v":1.23},{"d":2004.52,"s":"EUR/USD","v":1.21},{"d":2004.55,"s":"EUR/USD","v":1.225},{"d":2004.58,"s":"EUR/USD","v":1.22},{"d":2004.61,"s":"EUR/USD","v":1.21},{"d":2004.64,"s":"EUR/USD","v":1.23},{"d":2004.67,"s":"EUR/USD","v":1.22},{"d":2004.70,"s":"EUR/USD","v":1.24},{"d":2004.73,"s":"EUR/USD","v":1.235},{"d":2004.76,"s":"EUR/USD","v":1.25},{"d":2004.79,"s":"EUR/USD","v":1.28},{"d":2004.82,"s":"EUR/USD","v":1.30},{"d":2004.85,"s":"EUR/USD","v":1.32},{"d":2004.88,"s":"EUR/USD","v":1.33},{"d":2004.90,"s":"EUR/USD","v":1.34},{"d":2004.93,"s":"EUR/USD","v":1.32},{"d":2004.95,"s":"EUR/USD","v":1.36},{"d":2004.97,"s":"EUR/USD","v":1.33},{"d":2005.00,"s":"EUR/USD","v":1.31},{"d":2005.03,"s":"EUR/USD","v":1.30},{"d":2005.06,"s":"EUR/USD","v":1.28},{"d":2005.09,"s":"EUR/USD","v":1.30},{"d":2005.12,"s":"EUR/USD","v":1.32},{"d":2005.15,"s":"EUR/USD","v":1.34},{"d":2005.18,"s":"EUR/USD","v":1.32},{"d":2005.21,"s":"EUR/USD","v":1.30},{"d":2005.24,"s":"EUR/USD","v":1.29},{"d":2005.27,"s":"EUR/USD","v":1.30},{"d":2005.30,"s":"EUR/USD","v":1.29},{"d":2005.33,"s":"EUR/USD","v":1.28},{"d":2005.36,"s":"EUR/USD","v":1.26},{"d":2005.39,"s":"EUR/USD","v":1.24},{"d":2005.42,"s":"EUR/USD","v":1.20},{"d":2005.45,"s":"EUR/USD","v":1.21},{"d":2005.48,"s":"EUR/USD","v":1.19},{"d":2005.51,"s":"EUR/USD","v":1.20},{"d":2005.54,"s":"EUR/USD","v":1.22},{"d":2005.57,"s":"EUR/USD","v":1.23},{"d":2005.60,"s":"EUR/USD","v":1.21},{"d":2005.63,"s":"EUR/USD","v":1.24},{"d":2005.66,"s":"EUR/USD","v":1.22},{"d":2005.69,"s":"EUR/USD","v":1.20},{"d":2005.72,"s":"EUR/USD","v":1.21},{"d":2005.75,"s":"EUR/USD","v":1.19},{"d":2005.78,"s":"EUR/USD","v":1.18},{"d":2005.81,"s":"EUR/USD","v":1.17},{"d":2005.84,"s":"EUR/USD","v":1.165},{"d":2005.87,"s":"EUR/USD","v":1.18},{"d":2005.90,"s":"EUR/USD","v":1.19},{"d":2005.93,"s":"EUR/USD","v":1.18},{"d":2005.96,"s":"EUR/USD","v":1.20},{"d":2005.99,"s":"EUR/USD","v":1.21},{"d":2006.02,"s":"EUR/USD","v":1.195},{"d":2006.05,"s":"EUR/USD","v":1.20},{"d":2006.08,"s":"EUR/USD","v":1.21},{"d":2006.11,"s":"EUR/USD","v":1.20},{"d":2006.14,"s":"EUR/USD","v":1.215},{"d":2006.17,"s":"EUR/USD","v":1.22},{"d":2006.20,"s":"EUR/USD","v":1.23},{"d":2006.23,"s":"EUR/USD","v":1.225},{"d":2006.26,"s":"EUR/USD","v":1.25},{"d":2006.29,"s":"EUR/USD","v":1.27},{"d":2006.32,"s":"EUR/USD","v":1.28},{"d":2006.35,"s":"EUR/USD","v":1.27},{"d":2006.38,"s":"EUR/USD","v":1.28},{"d":2006.41,"s":"EUR/USD","v":1.27},{"d":2006.44,"s":"EUR/USD","v":1.26},{"d":2006.47,"s":"EUR/USD","v":1.28},{"d":2006.50,"s":"EUR/USD","v":1.27},{"d":2006.53,"s":"EUR/USD","v":1.28},{"d":2006.56,"s":"EUR/USD","v":1.285},{"d":2006.59,"s":"EUR/USD","v":1.27},{"d":2006.62,"s":"EUR/USD","v":1.28},{"d":2006.65,"s":"EUR/USD","v":1.27},{"d":2006.69,"s":"EUR/USD","v":1.275}
    ]
  },
  "layer": [
    {
      "data": {"name": "zins"},
      "mark": {"type": "line", "interpolate": "step-after", "strokeWidth": 3},
      "encoding": {
        "x": {
          "field": "d", "type": "quantitative",
          "scale": {"domain": [1994, 2006.71], "nice": false, "zero": false},
          "axis": {
            "values": [1994,1995,1996,1997,1998,1999,2000,2001,2002,2003,2004,2005,2006],
            "format": "d", "title": null, "grid": false,
            "domainColor": "black", "domainWidth": 3,
            "tickColor": "black", "tickWidth": 3, "tickSize": 10,
            "labelAngle": -60, "labelAlign": "right", "labelBaseline": "middle",
            "labelFont": "Liberation Sans", "labelFontSize": 28, "labelColor": "black",
            "labelPadding": 8, "labelOffset": -10, "labelOverlap": false, "labelFlush": false
          }
        },
        "y": {
          "field": "v", "type": "quantitative",
          "scale": {"domain": [0, 7.5], "nice": false, "zero": false},
          "axis": {
            "values": [0,1,2,3,4,5,6,7],
            "labelExpr": "replace(format(datum.value, '.1f'), '.', ',') + '%'",
            "grid": true, "gridColor": "black", "gridWidth": 3, "gridDash": [9, 6],
            "domainColor": "black", "domainWidth": 3,
            "tickColor": "black", "tickWidth": 3, "tickSize": 9,
            "labelFont": "Liberation Sans", "labelFontSize": 27, "labelColor": "black",
            "labelPadding": 13, "labelFlush": false,
            "title": "Zinssatz", "titleFont": "DejaVu Sans", "titleFontWeight": "bold", "titleFontSize": 30,
            "titleColor": "black", "titleAngle": -90, "titleAlign": "center", "titleBaseline": "middle",
            "titleX": -110, "titleY": 275
          }
        },
        "color": {
          "field": "s", "type": "nominal",
          "scale": {"domain": ["3-Mte-EURIBOR", "3-Mte-USD-LIBOR", "EUR/USD"], "range": ["#0000ff", "#333333", "#ff0000"]},
          "legend": {
            "orient": "none", "legendX": 60, "legendY": -56, "direction": "horizontal", "title": null,
            "symbolType": "stroke", "symbolSize": 3025, "symbolStrokeWidth": 4,
            "labelFont": "Liberation Sans", "labelFontSize": 20, "labelColor": "black", "labelLimit": 400,
            "labelOffset": 5, "columnPadding": 45
          }
        }
      }
    },
    {
      "data": {"name": "fx"},
      "mark": {"type": "line", "interpolate": "step-after", "strokeWidth": 3},
      "encoding": {
        "x": {"field": "d", "type": "quantitative"},
        "y": {
          "field": "v", "type": "quantitative",
          "scale": {"domain": [0.7, 1.45], "nice": false, "zero": false},
          "axis": {
            "orient": "right",
            "values": [0.7,0.7333,0.7667,0.8,0.8333,0.8667,0.9,0.9333,0.9667,1.0,1.0333,1.0667,1.1,1.1333,1.1667,1.2,1.2333,1.2667,1.3,1.3333,1.3667,1.4,1.4333],
            "labelExpr": "abs(datum.value * 10 - round(datum.value * 10)) < 0.01 ? replace(format(datum.value, '.2f'), '.', ',') : ''",
            "grid": false,
            "domainColor": "#c0c0c0", "domainWidth": 3,
            "tickColor": "#a0a0a0", "tickWidth": 2, "tickSize": 5,
            "labelFont": "Liberation Sans", "labelFontSize": 27, "labelColor": "black",
            "labelPadding": 12, "labelFlush": false,
            "title": "EUR/USD", "titleFont": "DejaVu Sans", "titleFontWeight": "bold", "titleFontSize": 30,
            "titleColor": "black", "titleAngle": 90, "titleAlign": "center", "titleBaseline": "middle",
            "titleX": 107, "titleY": 250
          }
        },
        "color": {
          "field": "s", "type": "nominal",
          "legend": {
            "orient": "none", "legendX": 60, "legendY": -56, "direction": "horizontal", "title": null,
            "symbolType": "stroke", "symbolSize": 3025, "symbolStrokeWidth": 4,
            "labelFont": "Liberation Sans", "labelFontSize": 20, "labelColor": "black", "labelLimit": 400,
            "labelOffset": 5, "columnPadding": 45
          }
        }
      }
    }
  ],
  "resolve": {"scale": {"y": "independent"}}
}
